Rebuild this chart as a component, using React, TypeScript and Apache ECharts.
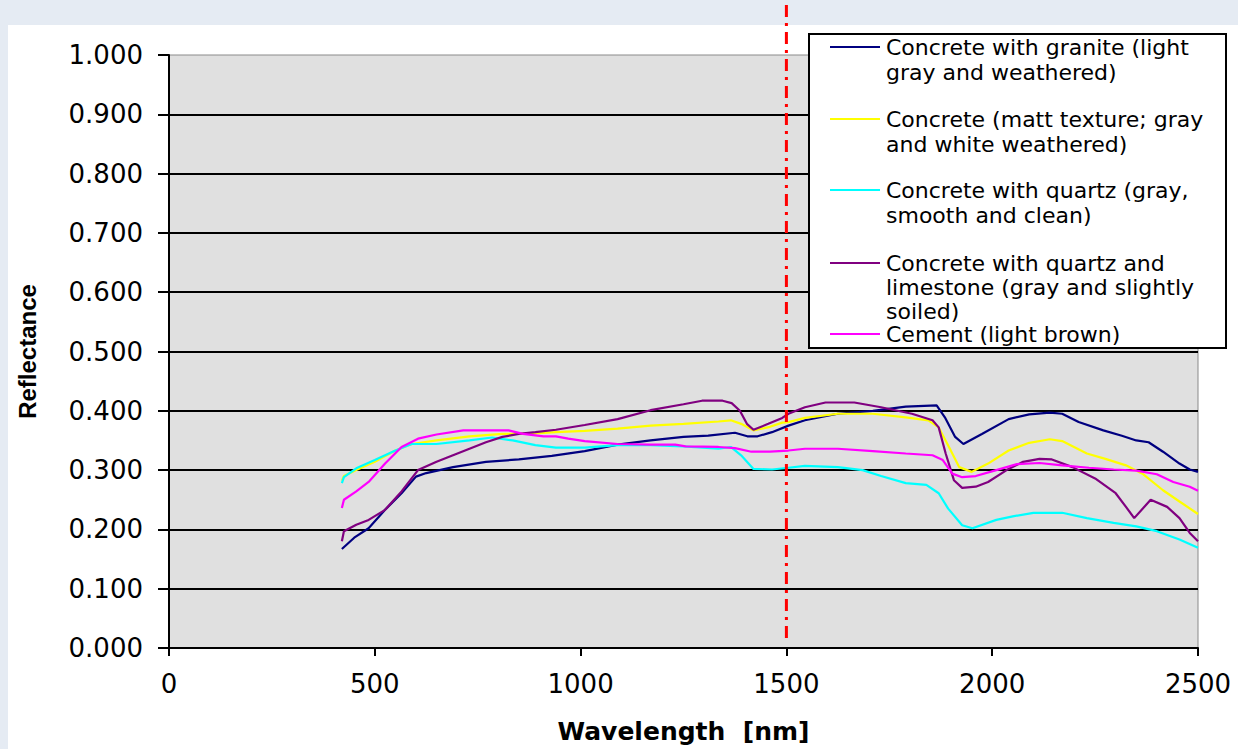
import React, { useEffect, useRef } from "react";
import * as echarts from "echarts";

// ---- data (wavelength in nm, reflectance) ----
const granitX = [420, 450, 485, 525, 565, 600, 625, 690, 770, 850, 930, 1010, 1090, 1170, 1250, 1310, 1375, 1405, 1430, 1465, 1505, 1545, 1625, 1710, 1790, 1865, 1885, 1910, 1930, 1975, 2040, 2090, 2140, 2170, 2210, 2270, 2315, 2350, 2380, 2415, 2455, 2480, 2500];
const granitY = [0.167, 0.186, 0.202, 0.233, 0.261, 0.289, 0.295, 0.305, 0.314, 0.318, 0.324, 0.332, 0.343, 0.35, 0.356, 0.358, 0.363, 0.357, 0.357, 0.364, 0.375, 0.384, 0.395, 0.4, 0.407, 0.409, 0.389, 0.356, 0.344, 0.361, 0.386, 0.394, 0.397, 0.395, 0.381, 0.367, 0.358, 0.35, 0.347, 0.331, 0.311, 0.301, 0.297];

const mattX = [420, 425, 455, 500, 550, 590, 650, 730, 810, 890, 940, 1010, 1090, 1170, 1250, 1335, 1365, 1390, 1420, 1460, 1490, 1505, 1545, 1625, 1710, 1790, 1845, 1870, 1895, 1920, 1950, 1990, 2040, 2090, 2140, 2170, 2230, 2275, 2325, 2365, 2415, 2455, 2500];
const mattY = [0.282, 0.29, 0.3, 0.314, 0.333, 0.344, 0.35, 0.357, 0.361, 0.362, 0.364, 0.366, 0.37, 0.375, 0.378, 0.382, 0.384, 0.378, 0.367, 0.373, 0.38, 0.381, 0.388, 0.395, 0.395, 0.389, 0.384, 0.372, 0.339, 0.305, 0.297, 0.311, 0.333, 0.346, 0.352, 0.349, 0.328, 0.319, 0.308, 0.294, 0.266, 0.247, 0.226];

const quartzX = [420, 425, 455, 500, 550, 590, 650, 730, 785, 835, 890, 940, 1010, 1090, 1170, 1250, 1335, 1365, 1390, 1420, 1465, 1505, 1545, 1625, 1685, 1730, 1790, 1840, 1870, 1893, 1927, 1952, 2010, 2050, 2100, 2170, 2230, 2295, 2350, 2400, 2455, 2500];
const quartzY = [0.278, 0.288, 0.303, 0.317, 0.333, 0.344, 0.344, 0.35, 0.355, 0.35, 0.342, 0.338, 0.338, 0.342, 0.342, 0.34, 0.336, 0.339, 0.325, 0.302, 0.301, 0.304, 0.307, 0.305, 0.3, 0.29, 0.278, 0.275, 0.261, 0.235, 0.207, 0.202, 0.216, 0.222, 0.228, 0.228, 0.219, 0.211, 0.205, 0.197, 0.183, 0.169];

const limeX = [420, 425, 455, 485, 525, 565, 605, 650, 690, 730, 770, 810, 850, 890, 940, 1010, 1090, 1170, 1250, 1295, 1345, 1367, 1387, 1404, 1420, 1456, 1490, 1505, 1545, 1595, 1665, 1730, 1805, 1855, 1870, 1887, 1907, 1927, 1960, 1990, 2035, 2075, 2115, 2145, 2195, 2250, 2300, 2325, 2345, 2385, 2425, 2455, 2480, 2500];
const limeY = [0.18, 0.197, 0.208, 0.216, 0.233, 0.264, 0.3, 0.314, 0.325, 0.336, 0.347, 0.356, 0.361, 0.364, 0.368, 0.376, 0.386, 0.401, 0.411, 0.417, 0.417, 0.413, 0.4, 0.378, 0.368, 0.378, 0.388, 0.395, 0.406, 0.414, 0.414, 0.406, 0.395, 0.384, 0.372, 0.328, 0.283, 0.27, 0.272, 0.28, 0.3, 0.314, 0.319, 0.318, 0.305, 0.286, 0.261, 0.238, 0.219, 0.25, 0.238, 0.219, 0.194, 0.18];

const cementX = [420, 425, 455, 485, 525, 565, 605, 650, 715, 770, 825, 860, 910, 940, 970, 1010, 1090, 1170, 1230, 1255, 1335, 1375, 1415, 1460, 1505, 1545, 1625, 1710, 1790, 1855, 1880, 1903, 1927, 1960, 2010, 2060, 2115, 2170, 2235, 2295, 2350, 2400, 2440, 2480, 2500];
const cementY = [0.236, 0.25, 0.264, 0.28, 0.311, 0.339, 0.353, 0.36, 0.367, 0.367, 0.367, 0.361, 0.357, 0.357, 0.353, 0.349, 0.344, 0.343, 0.343, 0.34, 0.339, 0.337, 0.331, 0.331, 0.333, 0.336, 0.336, 0.332, 0.328, 0.325, 0.317, 0.294, 0.288, 0.29, 0.3, 0.31, 0.312, 0.308, 0.304, 0.301, 0.299, 0.293, 0.28, 0.272, 0.265];

const seriesNames = [
  "Concrete with granite (light gray and weathered)",
  "Concrete (matt texture; gray and white weathered)",
  "Concrete with quartz (gray, smooth and clean)",
  "Concrete with quartz and limestone (gray and slightly soiled)",
  "Cement (light brown)",
];
const legendLabels = [
  "Concrete with granite (light\ngray and weathered)",
  "Concrete (matt texture; gray\nand white weathered)",
  "Concrete with quartz (gray,\nsmooth and clean)",
  "Concrete with quartz and\nlimestone (gray and slightly\nsoiled)",
  "Cement (light brown)",
];
const seriesColors = ["#000080", "#ffff00", "#00ffff", "#800080", "#ff00ff"];
const seriesX = [granitX, mattX, quartzX, limeX, cementX];
const seriesY = [granitY, mattY, quartzY, limeY, cementY];

const xTicks = { min: 0, max: 2500, interval: 500 };
const yTicks = { min: 0, max: 1, interval: 0.1 };
const markerWavelength = 1500;

const legendLineY = [47, 119, 190, 263, 334];
const legendLineHeight = [25.5, 25.5, 25, 24, 25];

export default function App() {
  const ref = useRef<HTMLDivElement>(null);
  useEffect(() => {
    if (!ref.current) return;
    const chart = echarts.init(ref.current, undefined, { renderer: "svg" });
    const series = seriesNames.map((name, i) => ({
      name,
      type: "line",
      data: seriesX[i].map((x, j) => [x, seriesY[i][j]]),
      showSymbol: false,
      symbol: "none",
      lineStyle: { color: seriesColors[i], width: 2.2 },
      itemStyle: { color: seriesColors[i] },
    }));
    chart.setOption({
      animation: false,
      backgroundColor: "transparent",
      grid: {
        left: 169,
        right: 40,
        top: 55,
        bottom: 96,
        show: true,
        backgroundColor: "#e0e0e0",
        borderColor: "#8a8a8a",
        borderWidth: 1,
      },
      legend: { show: false },
      xAxis: {
        type: "value",
        ...xTicks,
        name: "Wavelength  [nm]",
        nameLocation: "middle",
        nameGap: 71,
        nameTextStyle: { fontFamily: "DejaVu Sans", fontWeight: "bold", fontSize: 25, color: "#000" },
        axisLine: { show: true, lineStyle: { color: "#000", width: 2 } },
        axisTick: { show: true, length: 8, lineStyle: { color: "#000", width: 2 } },
        axisLabel: {
          fontFamily: "DejaVu Sans",
          fontSize: 26,
          color: "#000",
          margin: 23,
          formatter: (v: number) => String(v),
        },
        splitLine: { show: false },
      },
      yAxis: {
        type: "value",
        ...yTicks,
        name: "Reflectance",
        nameLocation: "middle",
        nameGap: 130,
        nameTextStyle: { fontFamily: "Liberation Sans", fontWeight: "bold", fontSize: 24, color: "#000" },
        axisLine: { show: true, lineStyle: { color: "#000", width: 2 } },
        axisTick: { show: true, length: 11, lineStyle: { color: "#000", width: 2 } },
        axisLabel: {
          fontFamily: "DejaVu Sans",
          fontSize: 26,
          color: "#000",
          margin: 26,
          formatter: (v: number) => v.toFixed(3),
        },
        splitLine: { show: true, showMaxLine: false, lineStyle: { color: "#000", width: 2 } },
      },
      series,
    });

    const xPix = chart.convertToPixel({ xAxisIndex: 0 }, markerWavelength) as number;
    const yBottom = chart.convertToPixel({ yAxisIndex: 0 }, 0.0125) as number;

    const legendEls: any[] = [
      {
        type: "rect",
        id: "legend-box",
        z: 100,
        shape: { x: 809, y: 34, width: 417, height: 314 },
        style: { fill: "#ffffff", stroke: "#000", lineWidth: 2 },
      },
    ];
    legendLabels.forEach((label, i) => {
      legendEls.push({
        type: "line",
        id: "legend-line-" + i,
        z: 101,
        shape: { x1: 830, y1: legendLineY[i], x2: 880, y2: legendLineY[i] },
        style: { stroke: seriesColors[i], lineWidth: 2 },
      });
      legendEls.push({
        type: "text",
        id: "legend-text-" + i,
        z: 101,
        x: 886,
        y: legendLineY[i] - legendLineHeight[i] / 2,
        style: {
          text: label,
          fontFamily: "DejaVu Sans",
          fontSize: 22,
          lineHeight: legendLineHeight[i],
          fill: "#000",
          verticalAlign: "top",
          align: "left",
        },
      });
    });
    legendEls.push({
      type: "line",
      id: "marker-line",
      z: 50,
      shape: { x1: xPix, y1: 5, x2: xPix, y2: yBottom },
      style: { stroke: "#ff0000", lineWidth: 3, lineDash: [12, 6, 3, 6] },
    });
    chart.setOption({ graphic: { elements: legendEls } });

    return () => chart.dispose();
  }, []);

  return (
    <div style={{ position: "fixed", left: 0, top: 0, width: 1238, height: 749, background: "#e5ebf3", overflow: "hidden" }}>
      <div style={{ position: "absolute", left: 8, top: 25, width: 1230, height: 724, background: "#ffffff" }} />
      <div ref={ref} style={{ position: "absolute", left: 0, top: 0, width: 1238, height: 749 }} />
    </div>
  );
}
